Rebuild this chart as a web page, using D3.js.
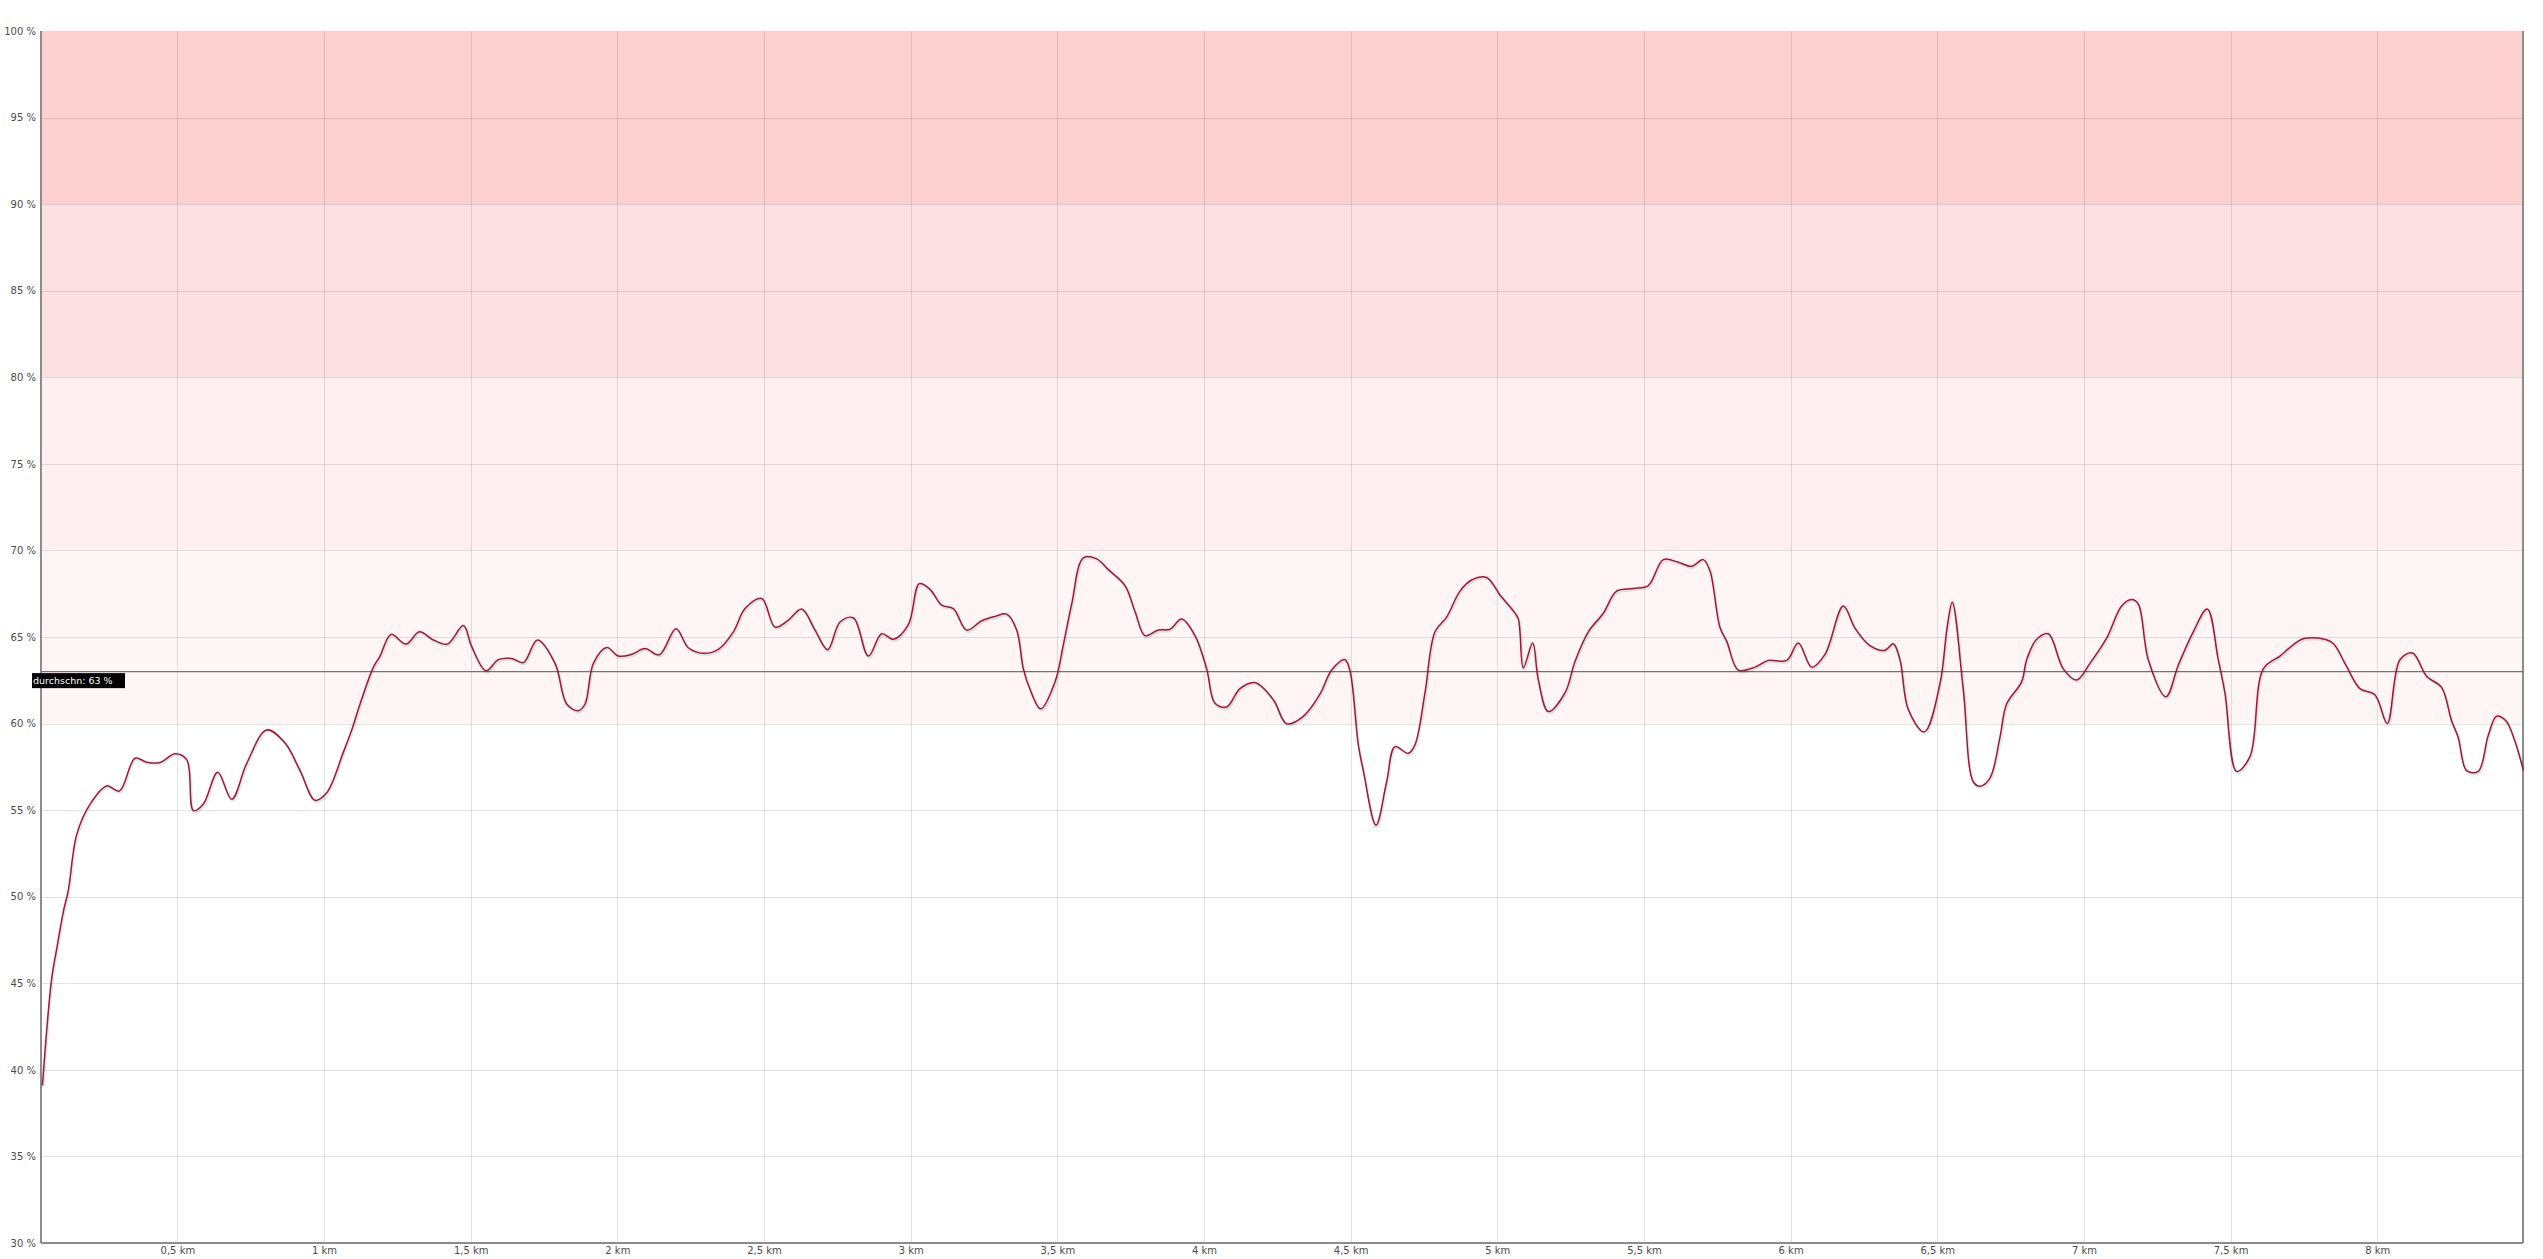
<!DOCTYPE html>
<html>
<head>
<meta charset="utf-8">
<script src="https://cdn.jsdelivr.net/npm/d3@7"></script>
<style>
  html, body { margin: 0; padding: 0; background: #fff; }
  svg { display: block; }
</style>
</head>
<body>
<svg id="chart" width="2543" height="1259"></svg>
<script>
// ---- data ----
const distanceKm = [
  0.0398, 0.0545, 0.0716, 0.0886, 0.1113, 0.1284, 0.1568, 0.2023, 0.2591, 0.3023,
  0.3557, 0.3955, 0.4409, 0.4920, 0.5318, 0.5545, 0.5886, 0.6375, 0.6852, 0.7364,
  0.8045, 0.8670, 0.9182, 0.9693, 1.0091, 1.0659, 1.0943, 1.1227, 1.1682, 1.1909,
  1.2284, 1.2794, 1.3250, 1.3727, 1.4205, 1.4750, 1.5034, 1.5523, 1.5943, 1.6398,
  1.6796, 1.7273, 1.7875, 1.8273, 1.8670, 1.8898, 1.9182, 1.9636, 2.0034, 2.0489,
  2.0944, 2.1432, 2.2000, 2.2420, 2.2932, 2.3443, 2.3955, 2.4353, 2.4921, 2.5375,
  2.5830, 2.6284, 2.6739, 2.7171, 2.7591, 2.8045, 2.8557, 2.9012, 2.9409, 2.9921,
  3.0296, 3.0660, 3.1057, 3.1455, 3.1910, 3.2421, 3.2875, 3.3273, 3.3614, 3.3841,
  3.4068, 3.4432, 3.4921, 3.5205, 3.5489, 3.5887, 3.6342, 3.6739, 3.7307, 3.7648,
  3.7989, 3.8443, 3.8841, 3.9239, 3.9693, 4.0091, 4.0375, 4.0773, 4.1227, 4.1739,
  4.2364, 4.2818, 4.3387, 4.3955, 4.4352, 4.4807, 4.4977, 4.5262, 4.5432, 4.5864,
  4.6227, 4.6512, 4.6966, 4.7193, 4.7534, 4.7875, 4.8273, 4.8728, 4.9125, 4.9636,
  5.0091, 5.0546, 5.0716, 5.0887, 5.1205, 5.1398, 5.1739, 5.2307, 5.2648, 5.3103,
  5.3614, 5.4069, 5.4637, 5.5148, 5.5660, 5.6171, 5.6626, 5.7023, 5.7250, 5.7592,
  5.7820, 5.8217, 5.8785, 5.9240, 5.9864, 6.0262, 6.0717, 6.1171, 6.1796, 6.2194,
  6.2705, 6.3216, 6.3500, 6.3728, 6.4012, 6.4557, 6.5091, 6.5341, 6.5512, 6.5886,
  6.6227, 6.6455, 6.6796, 6.7137, 6.7364, 6.7875, 6.8046, 6.8387, 6.8785, 6.9296,
  6.9750, 7.0205, 7.0773, 7.1285, 7.1626, 7.1853, 7.2194, 7.2796, 7.3216, 7.3728,
  7.4205, 7.4580, 7.4807, 7.5205, 7.5660, 7.6114, 7.6682, 7.7137, 7.7534, 7.8443,
  7.8898, 7.9409, 7.9921, 8.0340, 8.0773, 8.1205, 8.1682, 8.2193, 8.2534, 8.2761,
  8.3048, 8.3444, 8.3784, 8.4068, 8.4386, 8.4693, 8.4977
];
const percentValues = [
  39.1, 42.3, 45.3, 47.0, 49.15, 50.4, 53.6, 55.35, 56.4, 56.1,
  58.0, 57.77, 57.75, 58.26, 57.92, 54.97, 55.35, 57.19, 55.63, 57.7,
  59.63, 58.88, 57.28, 55.57, 56.0, 58.35, 59.63, 61.13, 63.26, 63.9,
  65.15, 64.59, 65.3, 64.83, 64.59, 65.66, 64.44, 63.05, 63.69, 63.76,
  63.52, 64.83, 63.48, 61.13, 60.74, 61.13, 63.48, 64.4, 63.9, 64.0,
  64.33, 63.97, 65.47, 64.38, 64.06, 64.29, 65.3, 66.64, 67.22, 65.57,
  65.98, 66.62, 65.4, 64.27, 65.87, 66.11, 63.9, 65.19, 64.87, 65.72,
  68.08, 67.75, 66.84, 66.64, 65.4, 65.94, 66.19, 66.32, 65.4, 63.16,
  61.98, 60.85, 62.41, 64.55, 66.9, 69.57, 69.51, 68.89, 67.97, 66.47,
  65.08, 65.4, 65.45, 66.04, 65.08, 63.16, 61.17, 60.96, 62.02, 62.37,
  61.38, 59.99, 60.42, 61.7, 63.09, 63.69, 63.05, 58.77, 57.28, 54.13,
  56.64, 58.67, 58.28, 58.77, 61.77, 65.3, 66.15, 67.65, 68.29, 68.44,
  67.43, 66.51, 66.04, 63.22, 64.65, 62.52, 60.7, 61.77, 63.59, 65.3,
  66.37, 67.65, 67.8, 67.97, 69.47, 69.32, 69.08, 69.47, 68.82, 65.55,
  64.76, 63.09, 63.26, 63.65, 63.65, 64.65, 63.26, 64.0, 66.79, 65.51,
  64.5, 64.23, 64.61, 63.69, 60.81, 59.52, 62.3, 65.62, 67.01, 61.98,
  56.64, 56.38, 56.85, 59.2, 61.13, 62.41, 63.69, 64.87, 65.19, 63.16,
  62.52, 63.48, 64.93, 66.79, 67.16, 66.9, 63.69, 61.55, 63.37, 65.3,
  66.62, 63.69, 61.77, 57.24, 58.09, 63.16, 63.9, 64.55, 64.93, 64.7,
  63.48, 62.02, 61.66, 60.01, 63.69, 64.08, 62.73, 62.09, 60.16, 59.2,
  57.28, 57.24, 59.31, 60.42, 60.16, 58.99, 57.32
];
const averagePercent = 63;
const averageLabel = "durchschn: 63 %";
const yTickValues = [30, 35, 40, 45, 50, 55, 60, 65, 70, 75, 80, 85, 90, 95, 100];
const xTickValues = [0.5, 1, 1.5, 2, 2.5, 3, 3.5, 4, 4.5, 5, 5.5, 6, 6.5, 7, 7.5, 8];
const zoneBounds = [[60, 70], [70, 80], [80, 90], [90, 100]];
const zoneColors = ["#fef5f5", "#ffeff0", "#fde0e1", "#fdd0d0"];
const xDomain = [0.035, 8.497];
const yDomain = [30, 100];

// ---- layout ----
const svg = d3.select("#chart");
const plotLeft = 41, plotRight = 2523, plotTop = 31, plotBottom = 1243;

const x = d3.scaleLinear().domain(xDomain).range([plotLeft, plotRight]);
const y = d3.scaleLinear().domain(yDomain).range([plotBottom, plotTop]);

// zones
svg.append("g").selectAll("rect").data(zoneBounds).join("rect")
  .attr("x", plotLeft).attr("width", plotRight - plotLeft)
  .attr("y", d => y(d[1])).attr("height", d => y(d[0]) - y(d[1]))
  .attr("fill", (d, i) => zoneColors[i]);

// grid
const grid = svg.append("g").attr("shape-rendering", "crispEdges");
grid.selectAll("line.h").data(yTickValues.filter(v => v > 30 && v < 100)).join("line")
  .attr("class", "h")
  .attr("x1", plotLeft).attr("x2", plotRight)
  .attr("y1", d => Math.round(y(d)) + 0.5).attr("y2", d => Math.round(y(d)) + 0.5)
  .attr("stroke", "rgba(0,0,0,0.11)");
grid.selectAll("line.v").data(xTickValues).join("line")
  .attr("class", "v")
  .attr("y1", plotTop).attr("y2", plotBottom)
  .attr("x1", d => Math.round(x(d)) + 0.5).attr("x2", d => Math.round(x(d)) + 0.5)
  .attr("stroke", "rgba(0,0,0,0.11)");

// axes
const fmtKm = d => String(d).replace(".", ",") + " km";
const xAxis = d3.axisBottom(x).tickValues(xTickValues).tickFormat(fmtKm).tickSize(0).tickPadding(5);
const yAxis = d3.axisLeft(y).tickValues(yTickValues).tickFormat(d => d + " %").tickSize(0).tickPadding(5);

const gx = svg.append("g").attr("transform", `translate(0,${plotBottom})`).call(xAxis);
const gy = svg.append("g").attr("transform", `translate(${plotLeft},0)`).call(yAxis);
[gx, gy].forEach(g => {
  g.select(".domain").remove();
  g.selectAll("text").attr("font-family", "'DejaVu Sans', Verdana, sans-serif")
    .attr("font-size", 10).attr("fill", "#4a4a4a");
});
gx.selectAll("text").attr("dy", "0.6em");

// frame lines (left, bottom, right)
const frame = svg.append("g").attr("shape-rendering", "crispEdges").attr("stroke", "#8c8c8c").attr("stroke-width", 1.5);
frame.append("line").attr("x1", plotLeft).attr("x2", plotLeft).attr("y1", plotTop).attr("y2", plotBottom);
frame.append("line").attr("x1", plotLeft).attr("x2", plotRight).attr("y1", plotBottom).attr("y2", plotBottom);
frame.append("line").attr("x1", plotRight).attr("x2", plotRight).attr("y1", plotTop).attr("y2", plotBottom);

// average line
svg.append("line")
  .attr("x1", plotLeft).attr("x2", plotRight)
  .attr("y1", y(averagePercent)).attr("y2", y(averagePercent))
  .attr("stroke", "#7a7070").attr("stroke-width", 1.2);

// series line
const points = distanceKm.map((d, i) => [d, percentValues[i]]);
const line = d3.line().x(d => x(d[0])).y(d => y(d[1])).curve(d3.curveCatmullRom.alpha(0.5));
svg.append("path").datum(points).attr("d", line)
  .attr("fill", "none").attr("stroke", "rgba(0,0,0,0.10)").attr("stroke-width", 2.5)
  .attr("transform", "translate(1,1.5)");
svg.append("path").datum(points).attr("d", line)
  .attr("fill", "none").attr("stroke", "#9c1a36").attr("stroke-width", 1.5)
  .attr("stroke-linejoin", "round");

// average label
const lab = svg.append("g").attr("transform", `translate(32,${y(averagePercent) + 1.5})`);
lab.append("rect").attr("x", 0).attr("y", 0).attr("width", 93).attr("height", 15).attr("fill", "#000");
lab.append("text").text(averageLabel)
  .attr("x", 1).attr("y", 11)
  .attr("font-family", "'DejaVu Sans', Verdana, sans-serif").attr("font-size", 9.5)
  .attr("fill", "#fff");
</script>
</body>
</html>
